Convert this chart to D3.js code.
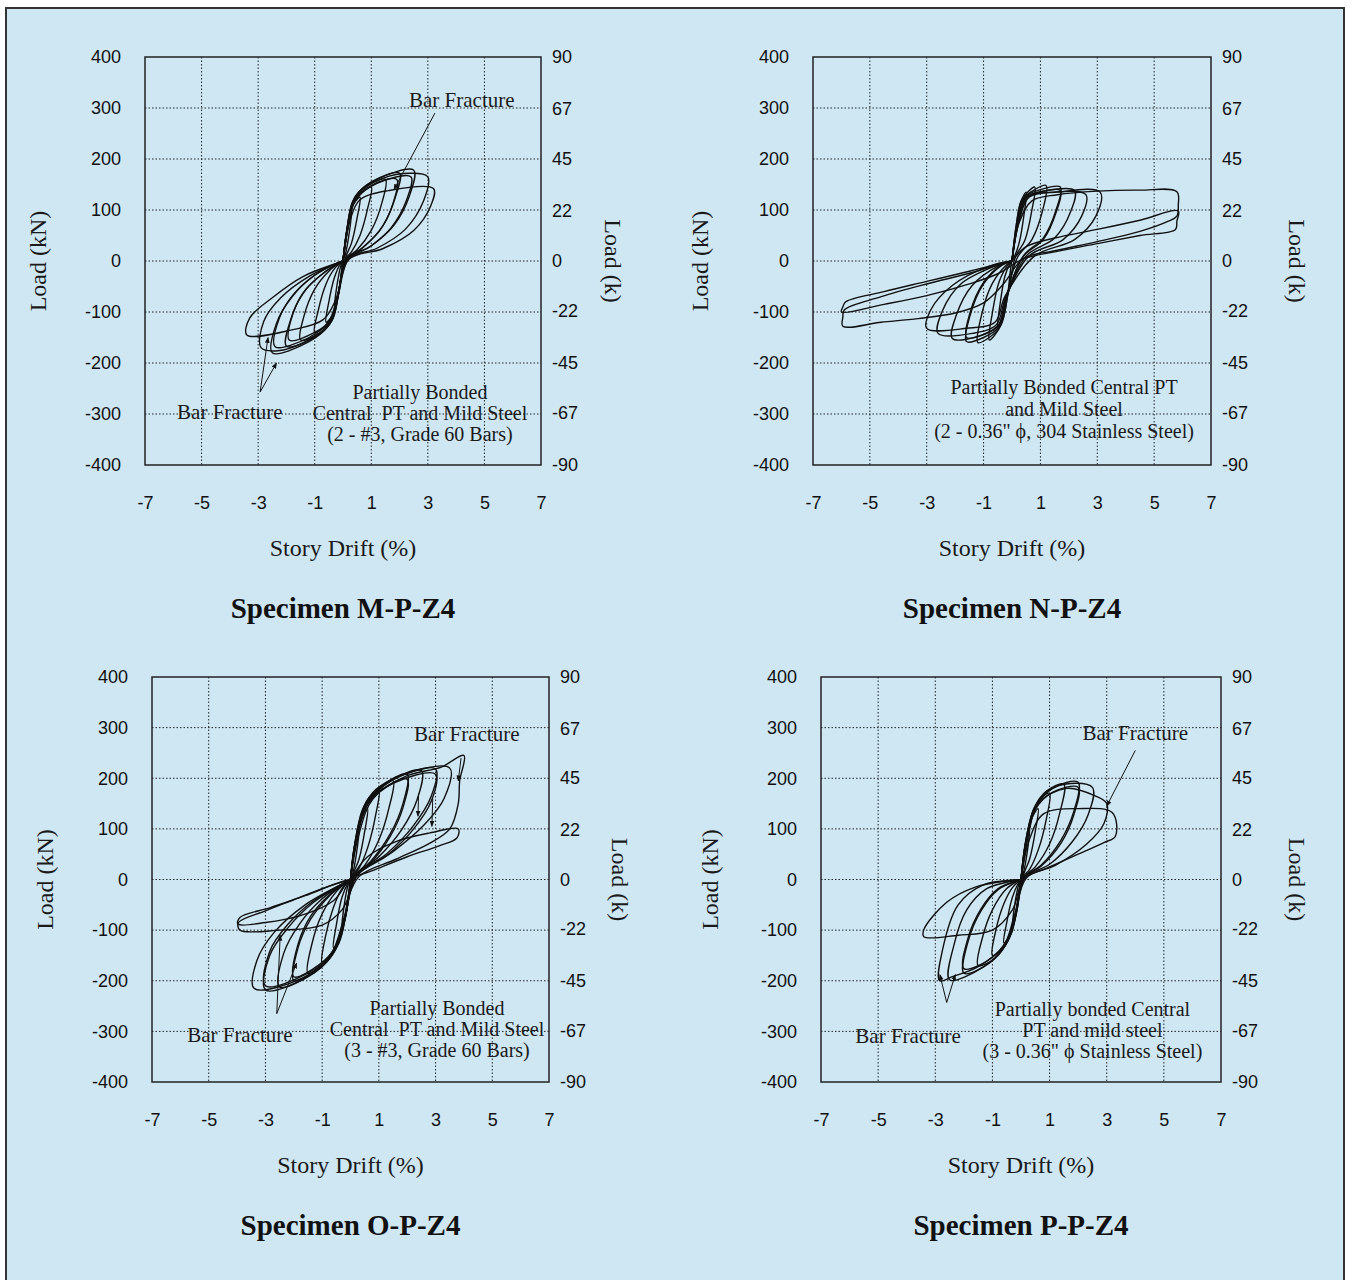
<!DOCTYPE html>
<html>
<head>
<meta charset="utf-8">
<script src="https://cdn.jsdelivr.net/npm/d3@7"></script>
<style>
  body { margin: 0; background: #fff; }
</style>
</head>
<body>
<div id="chart"></div>
<script>
    var width = 1353,
        height = 1280;

// tick labels shared by the four plots
    var driftTicks = [-7, -5, -3, -1, 1, 3, 5, 7];
    var loadTicksKN = [400, 300, 200, 100, 0, -100, -200, -300, -400];
    var loadTicksK = [90, 67, 45, 22, 0, -22, -45, -67, -90];

    var specimens = ["Specimen M-P-Z4", "Specimen N-P-Z4", "Specimen O-P-Z4", "Specimen P-P-Z4"];

    var notesM = ["Partially Bonded", "Central  PT and Mild Steel", "(2 - #3, Grade 60 Bars)"];
    var notesN = ["Partially Bonded Central PT", "and Mild Steel", "(2 - 0.36\" \u03d5, 304 Stainless Steel)"];
    var notesO = ["Partially Bonded", "Central  PT and Mild Steel", "(3 - #3, Grade 60 Bars)"];
    var notesP = ["Partially bonded Central", "PT and mild steel", "(3 - 0.36\" \u03d5 Stainless Steel)"];

// hysteresis cycles, [drift %, load kN]
    var loopsM = [
      [[0,0],[0.12,55],[0.3,95],[0.22,55],[0.08,12],[0,0],[-0.12,-50],[-0.3,-90],[-0.22,-50],[-0.08,-10],[0,0]],
      [[0,0],[0.12,55],[0.3,105],[0.6,125],[0.5,85],[0.3,35],[0.1,8],[-0.12,-50],[-0.3,-100],[-0.6,-120],[-0.5,-80],[-0.3,-32],[-0.1,-6],[0,0]],
      [[0,0],[0.15,65],[0.35,115],[0.65,135],[1.0,145],[0.88,105],[0.6,50],[0.3,18],[0.05,2],[-0.15,-60],[-0.35,-112],[-0.65,-130],[-1.0,-140],[-0.88,-98],[-0.6,-45],[-0.3,-15],[0,0]],
      [[0,0],[0.15,65],[0.35,118],[0.8,145],[1.5,160],[1.38,115],[1.0,60],[0.5,22],[0.1,3],[-0.15,-62],[-0.4,-118],[-0.8,-140],[-1.5,-155],[-1.38,-108],[-1.0,-55],[-0.5,-20],[-0.1,-3],[0,0]],
      [[0,0],[0.18,70],[0.4,115],[1.0,148],[1.9,160],[1.78,115],[1.3,60],[0.6,22],[0.1,3],[-0.18,-68],[-0.42,-115],[-1.0,-140],[-1.9,-155],[-1.78,-105],[-1.3,-55],[-0.6,-20],[-0.1,-3],[0,0]],
      [[0,0],[0.2,75],[0.4,122],[1.0,155],[2.0,172],[1.85,125],[1.4,68],[0.7,26],[0.15,4],[-0.2,-72],[-0.45,-122],[-1.0,-150],[-2.0,-167],[-1.85,-115],[-1.4,-62],[-0.7,-24],[-0.1,-3],[0,0]],
      [[0,0],[0.2,72],[0.45,120],[1.2,152],[2.4,165],[2.25,120],[1.7,65],[0.9,26],[0.15,4],[-0.2,-70],[-0.5,-118],[-1.2,-150],[-2.4,-168],[-2.25,-112],[-1.7,-62],[-0.9,-24],[-0.15,-3],[0,0]],
      [[0,0],[0.2,78],[0.45,128],[1.2,160],[2.5,178],[2.35,128],[1.8,70],[1.0,30],[0.2,5],[-0.2,-75],[-0.5,-125],[-1.2,-158],[-2.5,-180],[-2.35,-122],[-1.8,-70],[-1.0,-28],[-0.2,-4],[0,0]],
      [[0,0],[0.22,80],[0.5,130],[1.4,162],[2.4,172],[3.0,165],[2.85,118],[2.2,62],[1.2,25],[0.2,4],[-0.22,-78],[-0.55,-128],[-1.4,-160],[-2.3,-176],[-2.9,-170],[-2.8,-118],[-2.2,-72],[-1.2,-30],[-0.2,-4],[0,0]],
      [[0,0],[0.25,80],[0.6,120],[1.6,138],[3.2,142],[3.1,108],[2.5,60],[1.4,24],[0.2,3],[-0.25,-75],[-0.7,-115],[-1.8,-135],[-3.4,-145],[-3.3,-112],[-2.5,-72],[-1.4,-30],[-0.2,-4],[0,0]]
    ];

    var loopsN = [
      [[0,0],[0.15,70],[0.3,115],[0.5,135],[0.42,90],[0.25,35],[0.08,8],[0,0],[-0.15,-65],[-0.3,-110],[-0.5,-130],[-0.42,-85],[-0.25,-30],[-0.08,-6],[0,0]],
      [[0,0],[0.15,70],[0.35,120],[0.8,145],[0.7,100],[0.45,40],[0.12,8],[-0.15,-68],[-0.38,-125],[-0.8,-155],[-0.7,-105],[-0.45,-40],[-0.12,-6],[0,0]],
      [[0,0],[0.18,72],[0.4,122],[0.8,140],[1.2,148],[1.08,100],[0.7,42],[0.2,8],[-0.18,-70],[-0.42,-128],[-0.8,-150],[-1.2,-160],[-1.08,-108],[-0.7,-45],[-0.2,-8],[0,0]],
      [[0,0],[0.2,75],[0.45,125],[1.0,140],[1.7,145],[1.55,100],[1.1,45],[0.4,10],[-0.2,-72],[-0.45,-128],[-1.0,-150],[-1.6,-158],[-1.48,-108],[-1.0,-45],[-0.35,-8],[0,0]],
      [[0,0],[0.2,72],[0.45,122],[1.0,135],[1.7,138],[1.55,95],[1.1,42],[0.4,9],[-0.2,-70],[-0.45,-124],[-1.0,-144],[-1.6,-150],[-1.48,-102],[-1.0,-42],[-0.35,-7],[0,0]],
      [[0,0],[0.2,75],[0.5,125],[1.2,138],[2.2,138],[2.05,95],[1.5,45],[0.5,10],[-0.2,-72],[-0.5,-128],[-1.2,-148],[-2.1,-152],[-1.95,-105],[-1.4,-48],[-0.5,-10],[0,0]],
      [[0,0],[0.22,75],[0.55,125],[1.4,135],[2.6,130],[2.45,88],[1.8,42],[0.6,10],[-0.22,-70],[-0.55,-125],[-1.4,-142],[-2.6,-142],[-2.45,-98],[-1.8,-45],[-0.6,-10],[0,0]],
      [[0,0],[0.25,78],[0.6,125],[1.6,135],[3.1,135],[2.95,88],[2.2,42],[0.8,10],[-0.25,-70],[-0.6,-120],[-1.6,-132],[-3.0,-132],[-2.85,-95],[-2.1,-48],[-0.8,-10],[0,0]],
      [[0,0],[0.25,75],[0.7,118],[1.6,130],[3.0,137],[4.5,139],[5.8,136],[5.85,110],[5.8,88],[5.5,78],[4.5,58],[3.0,38],[1.5,20],[0.4,5],[-0.3,-45],[-1.0,-82],[-2.0,-102],[-3.3,-113],[-4.6,-120],[-5.95,-128],[-5.95,-110],[-5.9,-96],[-4.6,-70],[-3.0,-45],[-1.5,-24],[-0.4,-6],[0,0]],
      [[0,0],[0.5,28],[1.5,45],[3.0,62],[4.5,80],[5.85,98],[5.8,78],[5.75,62],[4.5,50],[3.0,34],[1.5,18],[0.4,4],[-0.5,-25],[-1.5,-45],[-3.0,-68],[-4.5,-85],[-6.0,-100],[-5.95,-90],[-5.85,-80],[-4.5,-60],[-3.0,-40],[-1.5,-20],[-0.4,-5],[0,0]]
    ];

    var loopsO = [
      [[0,0],[0.12,60],[0.3,100],[0.22,55],[0.08,12],[0,0],[-0.12,-55],[-0.3,-95],[-0.22,-50],[-0.08,-10],[0,0]],
      [[0,0],[0.15,70],[0.35,120],[0.6,140],[0.5,95],[0.3,40],[0.08,8],[-0.15,-65],[-0.35,-115],[-0.6,-135],[-0.5,-90],[-0.3,-35],[-0.08,-6],[0,0]],
      [[0,0],[0.15,70],[0.4,135],[0.7,165],[1.0,178],[0.88,125],[0.6,62],[0.3,22],[0.05,3],[-0.15,-65],[-0.4,-125],[-0.7,-152],[-1.0,-165],[-0.88,-112],[-0.6,-55],[-0.3,-18],[0,0]],
      [[0,0],[0.18,75],[0.45,140],[0.9,178],[1.5,195],[1.35,140],[1.0,78],[0.5,28],[0.08,3],[-0.18,-72],[-0.5,-132],[-0.9,-165],[-1.5,-185],[-1.35,-125],[-1.0,-68],[-0.5,-24],[-0.08,-3],[0,0]],
      [[0,0],[0.2,78],[0.5,140],[1.1,178],[2.0,198],[1.85,142],[1.4,85],[0.7,32],[0.1,4],[-0.2,-74],[-0.55,-135],[-1.1,-168],[-2.0,-192],[-1.85,-128],[-1.4,-72],[-0.7,-28],[-0.1,-4],[0,0]],
      [[0,0],[0.2,80],[0.5,145],[1.1,185],[2.0,208],[1.85,150],[1.4,90],[0.7,35],[0.1,4],[-0.2,-78],[-0.55,-140],[-1.1,-175],[-2.0,-200],[-1.85,-135],[-1.4,-78],[-0.7,-30],[-0.1,-4],[0,0]],
      [[0,0],[0.2,82],[0.55,150],[1.3,192],[2.5,215],[2.35,158],[1.8,98],[1.0,45],[0.15,5],[-0.2,-80],[-0.6,-145],[-1.3,-185],[-2.5,-212],[-2.35,-145],[-1.8,-88],[-1.0,-38],[-0.15,-5],[0,0]],
      [[0,0],[0.22,82],[0.6,148],[1.5,190],[3.0,208],[2.85,155],[2.2,98],[1.3,48],[0.2,6],[-0.22,-78],[-0.65,-145],[-1.5,-185],[-3.0,-210],[-2.85,-142],[-2.2,-88],[-1.3,-42],[-0.2,-6],[0,0]],
      [[0,0],[0.22,85],[0.6,152],[1.5,198],[3.0,218],[2.85,165],[2.2,105],[1.3,52],[0.2,6],[-0.22,-82],[-0.65,-150],[-1.5,-192],[-3.0,-218],[-2.85,-150],[-2.2,-95],[-1.3,-45],[-0.2,-6],[0,0]],
      [[0,0],[0.25,88],[0.7,158],[1.8,205],[3.5,220],[3.3,160],[2.6,108],[1.5,55],[0.2,6],[-0.25,-80],[-0.7,-148],[-1.7,-195],[-3.4,-215],[-3.3,-160],[-2.7,-105],[-1.6,-50],[-0.2,-6],[0,0]],
      [[0,0],[0.3,90],[0.8,160],[2.0,205],[3.2,222],[4.0,245],[3.85,195],[3.8,150],[3.5,100],[2.8,72],[1.6,40],[0.3,6],[-0.3,-60],[-1.0,-90],[-2.5,-100],[-3.9,-100],[-3.95,-85],[-3.0,-62],[-2.0,-40],[-1.0,-18],[-0.2,-3],[0,0]],
      [[0,0],[0.6,45],[1.6,75],[2.8,92],[3.8,100],[3.75,82],[3.1,66],[2.0,45],[0.8,18],[0,0],[-0.6,-42],[-1.8,-72],[-3.0,-85],[-3.97,-88],[-3.9,-75],[-2.8,-55],[-1.6,-32],[-0.5,-8],[0,0]]
    ];

    var loopsP = [
      [[0,0],[0.12,58],[0.3,100],[0.22,55],[0.08,12],[0,0],[-0.12,-55],[-0.3,-95],[-0.22,-50],[-0.08,-10],[0,0]],
      [[0,0],[0.15,70],[0.35,118],[0.6,140],[0.5,95],[0.3,40],[0.08,8],[-0.15,-62],[-0.35,-108],[-0.6,-125],[-0.5,-85],[-0.3,-35],[-0.08,-6],[0,0]],
      [[0,0],[0.15,72],[0.4,132],[0.7,160],[1.0,170],[0.88,118],[0.6,58],[0.3,20],[0.05,3],[-0.15,-62],[-0.4,-115],[-0.7,-140],[-1.0,-150],[-0.88,-100],[-0.6,-48],[-0.3,-16],[0,0]],
      [[0,0],[0.18,78],[0.45,140],[0.9,175],[1.5,188],[1.35,130],[1.0,70],[0.5,25],[0.08,3],[-0.18,-68],[-0.45,-120],[-0.9,-155],[-1.5,-170],[-1.35,-115],[-1.0,-60],[-0.5,-18],[-0.08,-2],[0,0]],
      [[0,0],[0.2,76],[0.5,138],[1.1,172],[2.0,182],[1.85,128],[1.4,72],[0.7,26],[0.1,3],[-0.2,-68],[-0.5,-120],[-1.1,-158],[-2.0,-176],[-1.85,-115],[-1.4,-58],[-0.8,-18],[-0.1,-2],[0,0]],
      [[0,0],[0.2,80],[0.5,145],[1.1,180],[2.0,192],[1.85,135],[1.4,78],[0.7,28],[0.1,3],[-0.2,-72],[-0.5,-125],[-1.1,-165],[-2.0,-185],[-1.85,-122],[-1.4,-62],[-0.8,-20],[-0.1,-2],[0,0]],
      [[0,0],[0.22,82],[0.55,148],[1.3,185],[2.5,182],[2.35,128],[1.8,75],[1.0,30],[0.15,4],[-0.22,-75],[-0.55,-130],[-1.3,-172],[-2.5,-198],[-2.35,-130],[-1.9,-60],[-1.2,-18],[-0.2,-2],[0,0]],
      [[0,0],[0.25,85],[0.6,150],[1.6,180],[2.6,165],[3.0,150],[2.9,110],[2.3,70],[1.2,28],[0.2,4],[-0.25,-75],[-0.6,-130],[-1.5,-172],[-2.4,-192],[-2.85,-200],[-2.75,-140],[-2.2,-50],[-1.3,-10],[-0.2,-1],[0,0]],
      [[0,0],[0.3,80],[0.8,130],[2.0,140],[3.2,132],[3.3,85],[2.9,73],[2.0,50],[0.8,20],[0.1,2],[-0.3,-60],[-1.0,-100],[-2.2,-110],[-3.4,-113],[-3.4,-99],[-2.6,-45],[-1.6,-15],[-0.4,-2],[0,0]]
    ];

// leader lines to the fracture points, [drift, load] from -> to
    var leadersM = [[[3.25,290],[1.8,140]], [[-2.93,-257],[-2.65,-150]], [[-2.93,-257],[-2.35,-200]]];
    var leadersN = [];
    var leadersO = [[[-2.6,-265],[-2.48,-110]], [[-2.6,-265],[-1.9,-165]], [[3.9,240],[3.8,195]], [[2.4,170],[2.38,125]], [[2.9,160],[2.87,105]]];
    var leadersP = [[[4.0,255],[3.0,145]], [[-2.6,-243],[-2.84,-188]], [[-2.6,-243],[-2.3,-188]]];

// layout of each plot (pixels) and where its notes sit (data units)
    var panels = [
      {x: 145, y: 57, w: 396, h: 408, loops: loopsM, leaders: leadersM, notes: notesM, noteAt: [2.72, -270], noteGap: 21,
       fractures: [[4.2, 302], [-4.0, -310]], title: specimens[0], leftX: 38, rightX: 613},
      {x: 813, y: 57, w: 398, h: 408, loops: loopsN, leaders: leadersN, notes: notesN, noteAt: [1.83, -261], noteGap: 22,
       fractures: [], title: specimens[1], leftX: 700, rightX: 1297},
      {x: 152, y: 677, w: 397, h: 405, loops: loopsO, leaders: leadersO, notes: notesO, noteAt: [3.05, -268], noteGap: 21,
       fractures: [[4.1, 274], [-3.9, -321]], title: specimens[2], leftX: 45, rightX: 620},
      {x: 821, y: 677, w: 400, h: 405, loops: loopsP, leaders: leadersP, notes: notesP, noteAt: [2.5, -269], noteGap: 21,
       fractures: [[4.0, 275], [-3.95, -322]], title: specimens[3], leftX: 710, rightX: 1297}
    ];

    var sans = "'Liberation Sans', Arial, sans-serif",
        serif = "'Liberation Serif', 'Times New Roman', serif";

    var svg = d3.select("#chart").append("svg")
        .attr("width", width)
        .attr("height", height);

    // blue board with frame
    svg.append("rect")
        .attr("x", 6).attr("y", 8)
        .attr("width", 1338).attr("height", 1300)
        .attr("fill", "#cfe7f3")
        .attr("stroke", "#333")
        .attr("stroke-width", 2);

    svg.append("defs").append("marker")
        .attr("id", "arrow")
        .attr("viewBox", "0 0 10 10")
        .attr("refX", 9).attr("refY", 5)
        .attr("markerWidth", 6).attr("markerHeight", 6)
        .attr("orient", "auto")
      .append("path")
        .attr("d", "M0,1L10,5L0,9Z")
        .attr("fill", "#111");

    panels.forEach(function (p) {
        var g = svg.append("g").attr("transform", "translate(" + p.x + "," + p.y + ")");

        var x = d3.scaleLinear().domain([-7, 7]).range([0, p.w]);
        var y = d3.scaleLinear().domain([-400, 400]).range([p.h, 0]);
        var yk = d3.scaleLinear().domain([-89.9, 89.9]).range([p.h, 0]);

        // dotted grid
        g.selectAll(".vgrid").data(driftTicks.slice(1, -1)).enter().append("line")
            .attr("x1", function (d) { return x(d); }).attr("x2", function (d) { return x(d); })
            .attr("y1", 0).attr("y2", p.h)
            .attr("stroke", "#222").attr("stroke-width", 1)
            .attr("stroke-dasharray", "1.5,2");
        g.selectAll(".hgrid").data(loadTicksKN.slice(1, -1)).enter().append("line")
            .attr("y1", function (d) { return y(d); }).attr("y2", function (d) { return y(d); })
            .attr("x1", 0).attr("x2", p.w)
            .attr("stroke", "#222").attr("stroke-width", 1)
            .attr("stroke-dasharray", "1.5,2");

        // the cycles
        var line = d3.line()
            .x(function (d) { return x(d[0]); })
            .y(function (d) { return y(d[1]); })
            .curve(d3.curveCatmullRom.alpha(0.5));

        g.selectAll(".loop").data(p.loops).enter().append("path")
            .attr("d", line)
            .attr("fill", "none")
            .attr("stroke", "#111")
            .attr("stroke-width", 1.4)
            .attr("stroke-linejoin", "round");

        g.selectAll(".leader").data(p.leaders).enter().append("line")
            .attr("x1", function (d) { return x(d[0][0]); })
            .attr("y1", function (d) { return y(d[0][1]); })
            .attr("x2", function (d) { return x(d[1][0]); })
            .attr("y2", function (d) { return y(d[1][1]); })
            .attr("stroke", "#111").attr("stroke-width", 1)
            .attr("marker-end", "url(#arrow)");

        // plot box
        g.append("rect")
            .attr("width", p.w).attr("height", p.h)
            .attr("fill", "none")
            .attr("stroke", "#222")
            .attr("stroke-width", 1.5);

        // axes, labels only (plain hyphen for negatives, as printed)
        var plain = function (d) { return String(d); };
        var left = g.append("g")
            .call(d3.axisLeft(y).tickValues(loadTicksKN).tickSize(0).tickPadding(24).tickFormat(plain));
        var right = g.append("g")
            .attr("transform", "translate(" + p.w + ",0)")
            .call(d3.axisRight(yk).tickValues(loadTicksK).tickSize(0).tickPadding(11).tickFormat(plain));
        var bottom = g.append("g")
            .attr("transform", "translate(0," + p.h + ")")
            .call(d3.axisBottom(x).tickValues(driftTicks).tickSize(0).tickPadding(31).tickFormat(plain));
        [left, right, bottom].forEach(function (a) {
            a.select(".domain").remove();
            a.attr("font-family", sans).attr("font-size", 18);
            a.selectAll("text").attr("fill", "#111");
        });

        // notes inside the plot
        g.selectAll(".note").data(p.notes).enter().append("text")
            .attr("x", x(p.noteAt[0]))
            .attr("y", function (d, i) { return y(p.noteAt[1]) + i * p.noteGap; })
            .attr("text-anchor", "middle")
            .style("white-space", "pre")
            .style("font-family", serif)
            .style("font-size", "20px")
            .attr("fill", "#1a1a1a")
            .text(function (d) { return d; });

        g.selectAll(".fracture").data(p.fractures).enter().append("text")
            .attr("x", function (d) { return x(d[0]); })
            .attr("y", function (d) { return y(d[1]); })
            .attr("text-anchor", "middle")
            .style("font-family", serif)
            .style("font-size", "21px")
            .attr("fill", "#1a1a1a")
            .text("Bar Fracture");

        // axis titles
        svg.append("text")
            .attr("transform", "translate(" + p.leftX + "," + (p.y + p.h / 2) + ") rotate(-90)")
            .attr("text-anchor", "middle")
            .attr("dy", "0.35em")
            .style("font-family", serif)
            .style("font-size", "24px")
            .attr("fill", "#1a1a1a")
            .text("Load (kN)");

        svg.append("text")
            .attr("transform", "translate(" + p.rightX + "," + (p.y + p.h / 2) + ") rotate(90)")
            .attr("text-anchor", "middle")
            .attr("dy", "0.35em")
            .style("font-family", serif)
            .style("font-size", "24px")
            .attr("fill", "#1a1a1a")
            .text("Load (k)");

        svg.append("text")
            .attr("x", p.x + p.w / 2)
            .attr("y", p.y + p.h + 83)
            .attr("dy", "0.35em")
            .attr("text-anchor", "middle")
            .style("font-family", serif)
            .style("font-size", "24px")
            .attr("fill", "#1a1a1a")
            .text("Story Drift (%)");

        svg.append("text")
            .attr("x", p.x + p.w / 2)
            .attr("y", p.y + p.h + 143)
            .attr("dy", "0.35em")
            .attr("text-anchor", "middle")
            .style("font-family", serif)
            .style("font-size", "29px")
            .style("font-weight", "bold")
            .attr("fill", "#111")
            .text(p.title);
    });
</script>
</body>
</html>
